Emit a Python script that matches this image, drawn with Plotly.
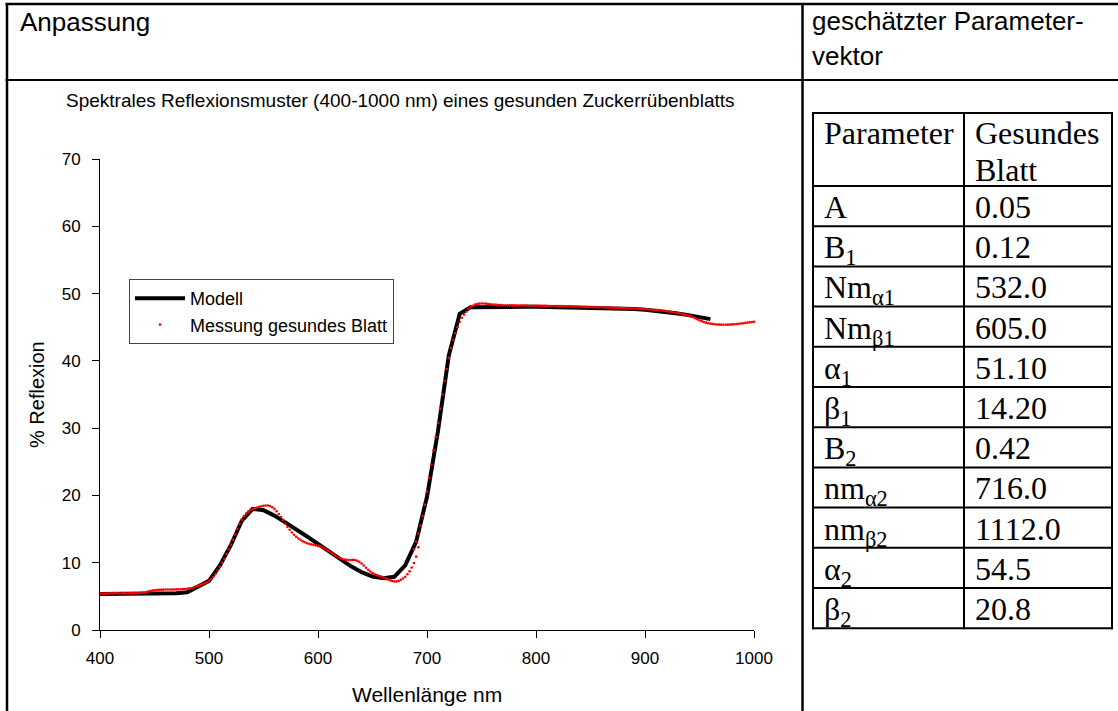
import plotly.graph_objects as go

W, H = 1118, 711

# ---------------- data ----------------
model_wl = list(range(400, 961, 10))
model_refl = [
    5.35, 5.35, 5.36, 5.38, 5.40, 5.40, 5.42, 5.48, 5.60, 6.40,
    7.30, 9.60, 12.6, 16.2, 18.0, 17.8, 17.0, 16.0, 15.0, 13.9,
    12.8, 11.7, 10.6, 9.5, 8.6, 7.95, 7.7, 7.9, 9.6, 13.1,
    19.8, 29.5, 40.8, 47.0, 47.95, 48.0, 48.05, 48.05, 48.05, 48.05,
    48.05, 48.02, 48.0, 47.98, 47.95, 47.92, 47.88, 47.83, 47.78, 47.7,
    47.6, 47.45, 47.25, 47.05, 46.8, 46.5, 46.2,
]

meas_wl_vis = list(range(400, 693, 2))
meas_refl_vis = [
    5.40, 5.42, 5.38, 5.45, 5.43, 5.47, 5.44, 5.50, 5.46, 5.44,
    5.48, 5.45, 5.43, 5.47, 5.45, 5.44, 5.48, 5.46, 5.50, 5.52,
    5.55, 5.62, 5.70, 5.78, 5.85, 5.90, 5.94, 5.96, 5.98, 6.00,
    6.02, 6.03, 6.02, 6.01, 6.02, 6.04, 6.05, 6.06, 6.08, 6.10,
    6.13, 6.18, 6.25, 6.35, 6.46, 6.58, 6.70, 6.82, 6.95, 7.10,
    7.28, 7.55, 7.90, 8.35, 8.85, 9.40, 10.0, 10.6, 11.3, 12.0,
    12.7, 13.4, 14.2, 15.0, 15.8, 16.4, 16.9, 17.3, 17.6, 17.85,
    18.0, 18.1, 18.2, 18.3, 18.38, 18.45, 18.5, 18.5, 18.42, 18.25,
    18.0, 17.65, 17.25, 16.8, 16.3, 15.8, 15.3, 14.9, 14.5, 14.15,
    13.85, 13.6, 13.4, 13.2, 13.05, 12.9, 12.8, 12.72, 12.65, 12.58,
    12.5, 12.4, 12.28, 12.12, 11.95, 11.75, 11.52, 11.28, 11.05, 10.85,
    10.68, 10.55, 10.47, 10.42, 10.40, 10.40, 10.42, 10.40, 10.30, 10.12,
    9.88, 9.58, 9.25, 8.95, 8.68, 8.45, 8.28, 8.15, 8.05, 7.95,
    7.82, 7.68, 7.52, 7.38, 7.28, 7.22, 7.22, 7.30, 7.45, 7.65,
    7.92, 8.28, 8.72, 9.28, 9.95, 10.9, 12.3,
]

meas_wl_nir = list(range(688, 1001, 2))
meas_refl_nir = [
    12.0, 13.1, 14.3, 15.5, 16.9, 18.6, 20.6, 22.6, 24.6, 26.7,
    28.7, 30.8, 32.9, 35.0, 37.0, 38.8, 40.4, 41.9, 43.1, 44.1,
    45.0, 45.8, 46.4, 46.9, 47.3, 47.7, 48.0, 48.2, 48.35, 48.45,
    48.5, 48.52, 48.52, 48.5, 48.46, 48.42, 48.38, 48.35, 48.32, 48.3,
    48.28, 48.27, 48.26, 48.25, 48.25, 48.24, 48.24, 48.23, 48.23, 48.22,
    48.22, 48.21, 48.21, 48.2, 48.2, 48.2, 48.19, 48.19, 48.18, 48.18,
    48.17, 48.17, 48.16, 48.16, 48.15, 48.15, 48.14, 48.13, 48.13, 48.12,
    48.11, 48.1, 48.1, 48.09, 48.08, 48.07, 48.06, 48.05, 48.04, 48.03,
    48.02, 48.01, 48.0, 47.99, 47.98, 47.97, 47.96, 47.95, 47.94, 47.93,
    47.92, 47.9, 47.89, 47.88, 47.86, 47.85, 47.84, 47.82, 47.81, 47.8,
    47.78, 47.77, 47.75, 47.74, 47.72, 47.7, 47.68, 47.66, 47.64, 47.62,
    47.6, 47.57, 47.54, 47.51, 47.47, 47.43, 47.38, 47.33, 47.28, 47.22,
    47.16, 47.1, 47.03, 46.95, 46.87, 46.78, 46.68, 46.6, 46.5, 46.35,
    46.2, 46.05, 45.9, 45.78, 45.68, 45.6, 45.53, 45.48, 45.44, 45.41,
    45.39, 45.38, 45.37, 45.37, 45.38, 45.4, 45.42, 45.45, 45.48, 45.52,
    45.56, 45.6, 45.64, 45.68, 45.72, 45.76, 45.8,
]

x_ticks = [400, 500, 600, 700, 800, 900, 1000]
y_ticks = [0, 10, 20, 30, 40, 50, 60, 70]

param_names = ["A", "B<sub>1</sub>", "Nm<sub>α1</sub>", "Nm<sub>β1</sub>",
               "α<sub>1</sub>", "β<sub>1</sub>", "B<sub>2</sub>",
               "nm<sub>α2</sub>", "nm<sub>β2</sub>", "α<sub>2</sub>", "β<sub>2</sub>"]
param_values = ["0.05", "0.12", "532.0", "605.0", "51.10", "14.20",
                "0.42", "716.0", "1112.0", "54.5", "20.8"]
table_header = ["Parameter", "Gesundes", "Blatt"]

# ---------------- helpers ----------------
def px(x):
    return x / W

def py(y):
    return 1 - y / H

SANS = "Liberation Sans, Arial, sans-serif"
SERIF = "Liberation Serif, Times New Roman, serif"

fig = go.Figure()
fig.add_trace(go.Scatter(
    x=model_wl, y=model_refl, mode="lines", name="Modell",
    line=dict(color="black", width=4), cliponaxis=False,
))
fig.add_trace(go.Scatter(
    x=meas_wl_vis + meas_wl_nir, y=meas_refl_vis + meas_refl_nir,
    mode="markers", name="Messung gesundes Blatt",
    marker=dict(color="red", size=2.6, line=dict(width=0)), cliponaxis=False,
))

shapes = []

def hline(y, x0, x1, w=2):
    shapes.append(dict(type="line", xref="paper", yref="paper",
                       x0=px(x0), x1=px(x1), y0=py(y), y1=py(y),
                       line=dict(color="black", width=w), layer="above"))

def vline(x, y0, y1, w=2):
    shapes.append(dict(type="line", xref="paper", yref="paper",
                       x0=px(x), x1=px(x), y0=py(y0), y1=py(y1),
                       line=dict(color="black", width=w), layer="above"))

# outer page table
hline(4, 5.5, W, 2.5)
hline(80, 5.5, W, 2)
vline(7, 3, H, 2.5)
vline(802.5, 3, H, 2.5)

# parameter table
t_left, t_mid, t_right = 813, 964, 1112
t_top, t_head = 113, 186
row_h = 40.2
n_rows = len(param_names)
t_bottom = t_head + row_h * n_rows
hline(t_top, t_left - 1, t_right + 1)
hline(t_head, t_left - 1, t_right + 1)
for i in range(1, n_rows + 1):
    hline(t_head + row_h * i, t_left - 1, t_right + 1)
for xv in (t_left, t_mid, t_right):
    vline(xv, t_top - 1, t_bottom + 1)

annotations = []

def text(x, y, s, size, family=SANS, xanchor="left", yanchor="top", angle=0):
    annotations.append(dict(xref="paper", yref="paper", x=px(x), y=py(y),
                            text=s, showarrow=False, xanchor=xanchor,
                            yanchor=yanchor, borderpad=0, textangle=angle,
                            font=dict(family=family, size=size, color="black")))

# header cells
text(19, 6, "Anpassung", 26)
text(811, 5, "geschätzter Parameter-", 26)
text(811, 40.5, "vektor", 26)

# chart title and axis titles
text(400, 100, "Spektrales Reflexionsmuster (400-1000 nm) eines gesunden Zuckerrübenblatts",
     19, xanchor="center", yanchor="middle")
text(427, 694, "Wellenlänge nm", 21, xanchor="center", yanchor="middle")
text(37, 395, "% Reflexion", 20, xanchor="center", yanchor="middle", angle=-90)

# parameter table text
text(t_left + 10, t_top + 1, table_header[0], 32, SERIF)
text(t_mid + 10, t_top + 1, table_header[1], 32, SERIF)
text(t_mid + 10, t_top + 37.5, table_header[2], 32, SERIF)
for i, (nm, val) in enumerate(zip(param_names, param_values)):
    top = t_head + row_h * i + 2
    text(t_left + 10, top, nm, 32, SERIF)
    text(t_mid + 10, top, val, 32, SERIF)

axis_common = dict(
    showline=True, linecolor="black", linewidth=1, mirror=False,
    ticks="outside", ticklen=7, tickwidth=1, tickcolor="black",
    showgrid=False, zeroline=False, automargin=False, fixedrange=True,
    tickfont=dict(family=SANS, size=17, color="black"),
)

fig.update_layout(
    width=W, height=H, autosize=False,
    margin=dict(l=0, r=0, t=0, b=0, pad=0),
    paper_bgcolor="white", plot_bgcolor="white",
    font=dict(family=SANS, size=17, color="black"),
    showlegend=True,
    legend=dict(x=px(129), y=py(279), xanchor="left", yanchor="top",
                bgcolor="white", bordercolor="#444", borderwidth=1,
                font=dict(family=SANS, size=18, color="black"),
                itemwidth=50, tracegroupgap=0),
    xaxis=dict(domain=[px(100), px(754)], range=[400, 1000], tickvals=x_ticks,
               ticklabelstandoff=6, **axis_common),
    yaxis=dict(domain=[py(630), py(159)], range=[0, 70], tickvals=y_ticks,
               ticklabelstandoff=8, **axis_common),
    shapes=shapes,
    annotations=annotations,
)

fig.write_html("out.html")
